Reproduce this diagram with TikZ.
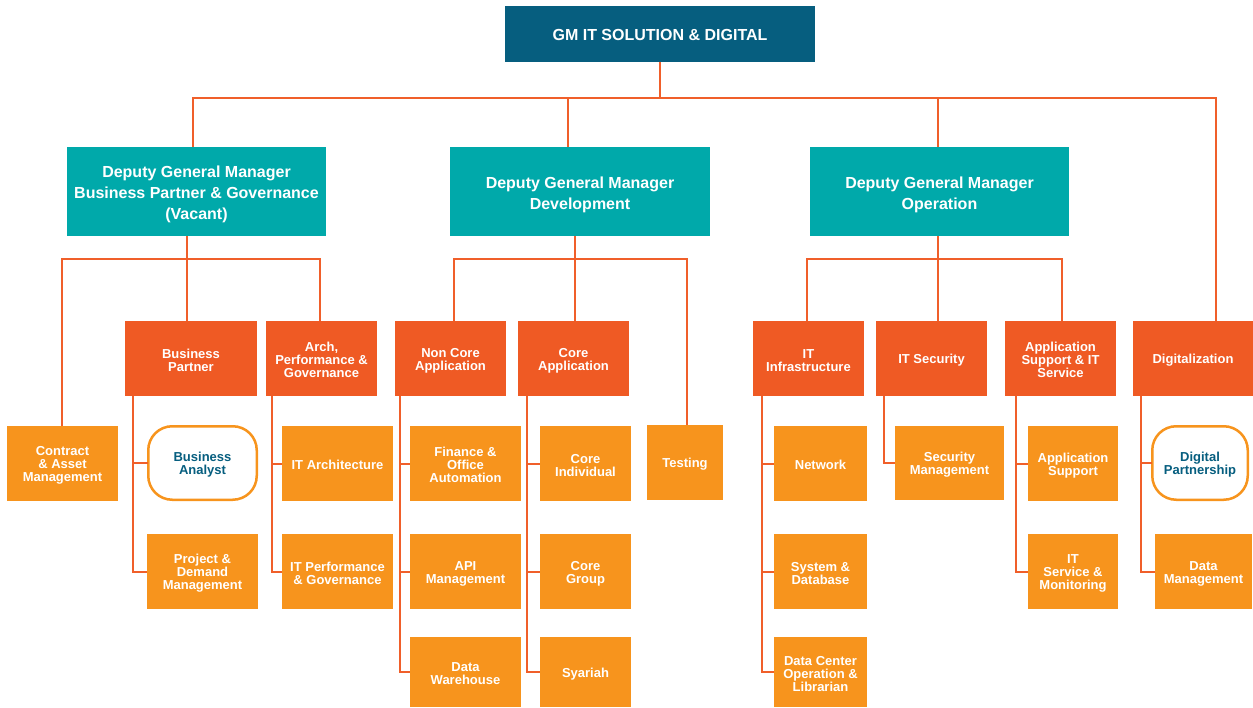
\documentclass[tikz,border=0pt]{standalone}
\usepackage{fontspec}
\setmainfont{Liberation Sans}
\definecolor{topc}{HTML}{065E7F}
\definecolor{depc}{HTML}{00A9AA}
\definecolor{ltwo}{HTML}{EF5A24}
\definecolor{lthree}{HTML}{F7941D}
\definecolor{linec}{HTML}{F05F2A}
\newcommand\dnD{\rule{0pt}{17.7pt}}
\newcommand\dnS{\rule{0pt}{12.8pt}}
\begin{document}
\begin{tikzpicture}[x=1pt,y=-1pt,
  box/.style={inner sep=0pt, outer sep=0pt, align=center, text=white, font=\bfseries\fontsize{13}{13}\selectfont},
  gmbox/.style={box, fill=topc, font=\bfseries\fontsize{16}{21}\selectfont},
  depbox/.style={box, fill=depc, font=\bfseries\fontsize{16}{21}\selectfont},
  ltwobox/.style={box, fill=ltwo},
  lthreebox/.style={box, fill=lthree},
  ovalbox/.style={box, fill=white, draw=lthree, line width=2.5pt, rounded corners=24pt, text=topc},
  conn/.style={draw=linec, line width=2pt},
  sz/.style 2 args={minimum width=#1, minimum height=#2}
]
\useasboundingbox (0,0) rectangle (1253,708);
% top
\node[gmbox, sz={310}{56}] (top) at (660,34) {\rule{0pt}{13.5pt}GM IT SOLUTION \& DIGITAL};
% deputies
\node[depbox, sz={259}{89}] (d1) at (196.5,191.5) {\dnD Deputy General Manager\\Business Partner \& Governance\\(Vacant)};
\node[depbox, sz={260}{89}] (d2) at (580,191.5) {\dnD Deputy General Manager\\Development};
\node[depbox, sz={259}{89}] (d3) at (939.5,191.5) {\dnD Deputy General Manager\\Operation};
% level 2
\node[ltwobox, sz={132}{75}] (bp) at (191,358.5) {\dnS Business\\Partner};
\node[ltwobox, sz={111}{75}] (arch) at (321.5,358.5) {\dnS Arch,\\Performance \&\\Governance};
\node[ltwobox, sz={111}{75}] (nc) at (450.5,358.5) {\dnS Non Core\\Application};
\node[ltwobox, sz={111}{75}] (ca) at (573.5,358.5) {\dnS Core\\Application};
\node[ltwobox, sz={111}{75}] (inf) at (808.5,358.5) {\dnS IT\\Infrastructure};
\node[ltwobox, sz={111}{75}] (sec) at (931.5,358.5) {\dnS IT Security};
\node[ltwobox, sz={111}{75}] (aps) at (1060.5,358.5) {\dnS Application\\Support \& IT\\Service};
\node[ltwobox, sz={120}{75}] (dig) at (1193,358.5) {\dnS Digitalization};
% level 3
\node[lthreebox, sz={111}{75}] (contract) at (62.5,463.5) {\dnS Contract\\\& Asset\\Management};
\node[ovalbox, sz={108.5}{73.5}] (ba) at (202.5,463) {\dnS Business\\Analyst};
\node[lthreebox, sz={111}{75}] (pdm) at (202.5,571.5) {\dnS Project \&\\Demand\\Management};
\node[lthreebox, sz={111}{75}] (itarch) at (337.5,463.5) {\dnS IT Architecture};
\node[lthreebox, sz={111}{75}] (itperf) at (337.5,571.5) {\dnS IT Performance\\\& Governance};
\node[lthreebox, sz={111}{75}] (fin) at (465.5,463.5) {\dnS Finance \&\\Office\\Automation};
\node[lthreebox, sz={111}{75}] (api) at (465.5,571.5) {\dnS API\\Management};
\node[lthreebox, sz={111}{70}] (dw) at (465.5,672) {\dnS Data\\Warehouse};
\node[lthreebox, sz={91}{75}] (ci) at (585.5,463.5) {\dnS Core\\Individual};
\node[lthreebox, sz={91}{75}] (cg) at (585.5,571.5) {\dnS Core\\Group};
\node[lthreebox, sz={91}{70}] (sy) at (585.5,672) {\dnS Syariah};
\node[lthreebox, sz={76}{75}] (test) at (685,462.5) {\dnS Testing};
\node[lthreebox, sz={93}{75}] (net) at (820.5,463.5) {\dnS Network};
\node[lthreebox, sz={93}{75}] (sysdb) at (820.5,571.5) {\dnS System \&\\Database};
\node[lthreebox, sz={93}{70}] (dc) at (820.5,672) {\dnS Data Center\\Operation \&\\Librarian};
\node[lthreebox, sz={109}{74}] (secm) at (949.5,463) {\dnS Security\\Management};
\node[lthreebox, sz={90}{75}] (apsup) at (1073,463.5) {\dnS Application\\Support};
\node[lthreebox, sz={90}{75}] (itsm) at (1073,571.5) {\dnS IT\\Service \&\\Monitoring};
\node[ovalbox, sz={95.5}{73.5}] (dp) at (1200,463) {\dnS Digital\\Partnership};
\node[lthreebox, sz={97}{75}] (dm) at (1203.5,571.5) {\dnS Data\\Management};
% top bus
\coordinate (t1) at (193,98);
\coordinate (t2) at (568,98);
\coordinate (t3) at (938,98);
\coordinate (t4) at (1216,98);
\draw[conn] (top.south) -- (top.south |- t1);
\draw[conn] (d1.north -| t1) |- (t4) -- (dig.north -| t4);
\draw[conn] (t2) -- (d2.north -| t2);
\draw[conn] (t3) -- (d3.north -| t3);
% deputy buses
\coordinate (k1) at (187,259); \coordinate (k1a) at (62,259); \coordinate (k1c) at (320,259);
\draw[conn] (d1.south -| k1) -- (bp.north -| k1);
\draw[conn] (contract.north -| k1a) |- (k1c) -- (arch.north -| k1c);
\coordinate (k2) at (575,259); \coordinate (k2a) at (454,259); \coordinate (k2c) at (687,259);
\draw[conn] (d2.south -| k2) -- (ca.north -| k2);
\draw[conn] (nc.north -| k2a) |- (k2c) -- (test.north -| k2c);
\coordinate (k3) at (938,259); \coordinate (k3a) at (807,259); \coordinate (k3c) at (1062,259);
\draw[conn] (d3.south -| k3) -- (sec.north -| k3);
\draw[conn] (inf.north -| k3a) |- (k3c) -- (aps.north -| k3c);
% side connectors
\coordinate (sbp) at (133,0);
\draw[conn] (bp.south -| sbp) |- (pdm.west); \draw[conn] (sbp |- ba.west) -- (ba.west);
\coordinate (sarch) at (272,0);
\draw[conn] (arch.south -| sarch) |- (itperf.west); \draw[conn] (sarch |- itarch.west) -- (itarch.west);
\coordinate (snc) at (400,0);
\draw[conn] (nc.south -| snc) |- (dw.west); \draw[conn] (snc |- fin.west) -- (fin.west); \draw[conn] (snc |- api.west) -- (api.west);
\coordinate (sca) at (527,0);
\draw[conn] (ca.south -| sca) |- (sy.west); \draw[conn] (sca |- ci.west) -- (ci.west); \draw[conn] (sca |- cg.west) -- (cg.west);
\coordinate (sinf) at (762,0);
\draw[conn] (inf.south -| sinf) |- (dc.west); \draw[conn] (sinf |- net.west) -- (net.west); \draw[conn] (sinf |- sysdb.west) -- (sysdb.west);
\coordinate (ssec) at (884,0);
\draw[conn] (sec.south -| ssec) |- (secm.west);
\coordinate (saps) at (1016,0);
\draw[conn] (aps.south -| saps) |- (itsm.west); \draw[conn] (saps |- apsup.west) -- (apsup.west);
\coordinate (sdig) at (1141,0);
\draw[conn] (dig.south -| sdig) |- (dm.west); \draw[conn] (sdig |- dp.west) -- (dp.west);
\end{tikzpicture}
\end{document}
